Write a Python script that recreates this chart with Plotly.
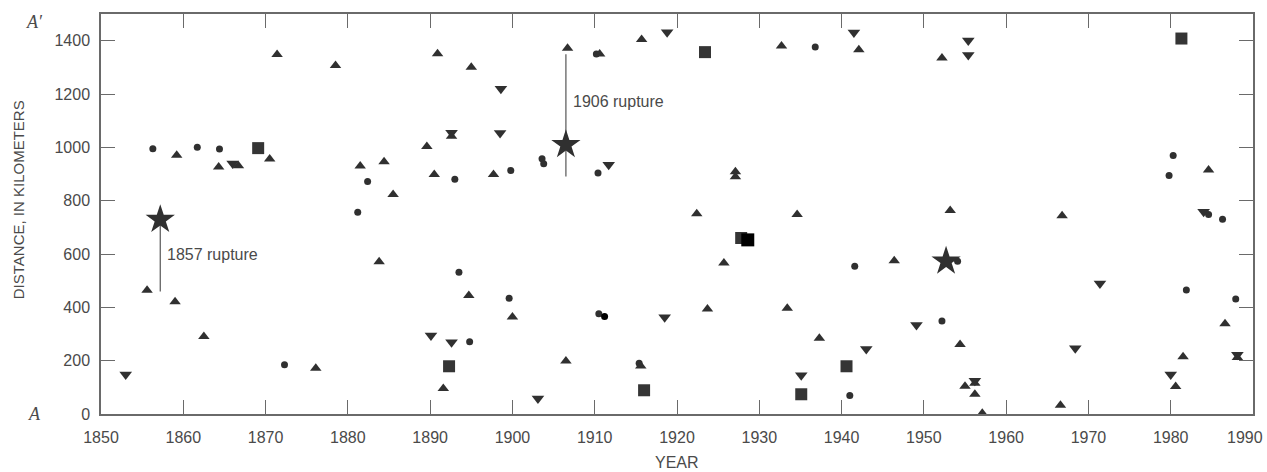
import plotly.graph_objects as go

# ---- data (year, distance km) ----
circle_year = [1856.3, 1861.7, 1864.4, 1872.3, 1881.2, 1882.4, 1893.0, 1893.5, 1894.8, 1899.6,
               1899.8, 1903.6, 1903.8, 1910.2, 1910.4, 1910.5, 1915.4, 1936.8, 1941.0, 1941.6,
               1952.2, 1954.1, 1979.8, 1980.3, 1981.9, 1984.6, 1986.3, 1987.9]
circle_km = [995, 1000, 994, 185, 757, 872, 880, 532, 271, 434,
             913, 957, 938, 1350, 904, 376, 190, 1376, 69, 554,
             349, 573, 894, 969, 465, 748, 730, 431]

black_circle_year = [1911.2]
black_circle_km = [366]

up_year = [1855.6, 1859.0, 1859.2, 1862.5, 1864.3, 1866.7, 1870.5, 1871.4, 1876.1, 1878.5,
           1881.5, 1883.8, 1884.4, 1885.5, 1889.6, 1890.5, 1890.9, 1891.6, 1892.6, 1894.7,
           1895.0, 1897.7, 1900.0, 1906.5, 1906.7, 1910.6, 1915.6, 1915.7, 1922.4, 1923.7,
           1925.7, 1927.1, 1927.1, 1932.7, 1933.4, 1934.6, 1937.3, 1942.1, 1946.4, 1952.2,
           1953.2, 1954.4, 1955.0, 1956.2, 1956.2, 1957.1, 1966.6, 1966.8, 1980.6, 1981.5,
           1984.6, 1986.6, 1988.1]
up_km = [464, 421, 970, 291, 926, 931, 956, 1348, 172, 1307,
         930, 571, 946, 823, 1003, 898, 1351, 96, 1042, 444,
         1300, 898, 364, 199, 1372, 1350, 180, 1404, 751, 394,
         566, 908, 890, 1380, 397, 748, 284, 1366, 575, 1335,
         763, 261, 104, 115, 74, 3, 33, 743, 103, 215,
         915, 338, 212]

down_year = [1853.0, 1866.0, 1890.1, 1892.6, 1892.6, 1898.5, 1898.6, 1903.1, 1911.7, 1918.5,
             1918.8, 1935.1, 1941.5, 1943.0, 1949.1, 1955.4, 1955.4, 1956.2, 1968.4, 1971.4,
             1980.0, 1984.0, 1988.1]
down_km = [148, 939, 294, 269, 1055, 1054, 1220, 58, 935, 363,
           1432, 145, 1431, 244, 334, 1401, 1346, 125, 247, 489,
           148, 758, 222]

square_year = [1869.1, 1892.3, 1916.0, 1923.4, 1927.8, 1935.1, 1940.6, 1981.3, 1990.1]
square_km = [997, 179, 89, 1357, 660, 74, 179, 1408, 901]

black_square_year = [1928.6]
black_square_km = [653]

star_year = [1857.2, 1906.5, 1952.7]
star_km = [729, 1010, 573]

rupture_year = [1857.2, 1906.5]
rupture_low = [459, 891]
rupture_high = [729, 1349]
rupture_text = ["1857 rupture", "1906 rupture"]
rupture_label_km = [599, 1172]

x_ticks = list(range(1850, 1991, 10))
x_ticktext = [str(v) for v in x_ticks[:-1]] + [""]   # last label drawn separately (edge)
last_x_label = str(x_ticks[-1])
y_ticks = list(range(0, 1401, 200))

MK = "#303030"
AX = "#6a6a6a"
TXT = "#4a4a4a"
FONT = "Liberation Sans, Arial"

fig = go.Figure()

# rupture lines
for yr, lo, hi in zip(rupture_year, rupture_low, rupture_high):
    fig.add_trace(go.Scatter(x=[yr, yr], y=[lo, hi], mode="lines",
                             line=dict(color="#555555", width=1.2),
                             hoverinfo="skip", showlegend=False))

def pts(x, y, symbol, size, color=MK):
    fig.add_trace(go.Scatter(x=x, y=y, mode="markers", showlegend=False, cliponaxis=False,
                             marker=dict(symbol=symbol, size=size, color=color,
                                         line=dict(width=0))))

pts(circle_year, circle_km, "circle", 7)
pts(up_year, up_km, "triangle-up", 10)
pts(down_year, down_km, "triangle-down", 11)
pts(square_year, square_km, "square", 12, "#353535")
pts(black_square_year, black_square_km, "square", 13, "#000000")
pts(black_circle_year, black_circle_km, "circle", 7, "#000000")
pts(star_year, star_km, "star", 22)

for yr, txt, ky in zip(rupture_year, rupture_text, rupture_label_km):
    fig.add_annotation(x=yr + 0.6, y=ky, text=txt, showarrow=False, xanchor="left",
                       yanchor="middle", font=dict(family=FONT, size=16, color=TXT))

fig.add_annotation(xref="paper", yref="paper", x=-0.058, y=0.98, text="<i>A′</i>", showarrow=False,
                   xanchor="center", yanchor="middle",
                   font=dict(family="Liberation Serif, Times New Roman", size=18, color=TXT))
fig.add_annotation(xref="paper", yref="paper", x=-0.058, y=0.0, text="<i>A</i>", showarrow=False,
                   xanchor="center", yanchor="middle",
                   font=dict(family="Liberation Serif, Times New Roman", size=18, color=TXT))
# last x tick label, kept inside the page
fig.add_annotation(x=x_ticks[-1], xref="x", yref="paper", y=0, text=last_x_label,
                   showarrow=False, xanchor="right", yanchor="middle", xshift=12, yshift=-23,
                   font=dict(family=FONT, size=16, color=TXT))
# axis titles
fig.add_annotation(xref="paper", yref="paper", x=-0.0715, y=0.536, text="DISTANCE, IN KILOMETERS",
                   textangle=-90, showarrow=False, xanchor="center", yanchor="middle",
                   font=dict(family=FONT, size=15, color=TXT))
fig.add_annotation(xref="paper", yref="paper", x=0.5, y=-0.12, text="YEAR",
                   showarrow=False, xanchor="center", yanchor="middle",
                   font=dict(family=FONT, size=16, color=TXT))

axis_common = dict(showline=True, linecolor=AX, linewidth=1.5, mirror="ticks",
                   ticks="inside", ticklen=14, tickcolor=AX, tickwidth=1.2,
                   showgrid=False, zeroline=False, automargin=False,
                   tickfont=dict(family=FONT, size=16, color=TXT))

fig.update_layout(
    width=1267, height=472,
    margin=dict(l=101, r=14, t=14, b=58),
    paper_bgcolor="white", plot_bgcolor="white",
    xaxis=dict(range=[1850, 1990], tickvals=x_ticks, ticktext=x_ticktext,
               ticklabelstandoff=8, **axis_common),
    yaxis=dict(range=[0, 1500], tickvals=y_ticks, ticktext=[str(v) for v in y_ticks],
               ticklabelstandoff=6, **axis_common),
)

fig.write_html("out.html")
